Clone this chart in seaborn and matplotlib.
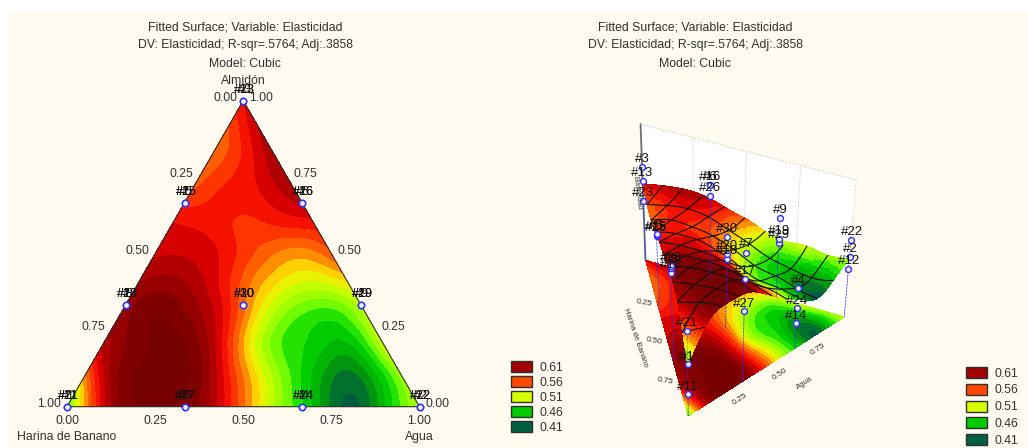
import numpy as np
import pandas as pd
import seaborn as sns
import matplotlib.pyplot as plt
import matplotlib.tri as mtri
from matplotlib.colors import BoundaryNorm, ListedColormap
from matplotlib.patches import Patch, Rectangle
from mpl_toolkits.mplot3d import proj3d
from mpl_toolkits.mplot3d.art3d import Poly3DCollection

sns.set_theme(style='white')
plt.rcParams['font.family'] = ['Liberation Sans', 'DejaVu Sans']

W, H = 1028, 448

# superficie, por filas de almidon (0, .1, ... 1), de izquierda a derecha
filas_superficie = [
    [.47, .59, .635, .635, .61, .55, .49, .445, .405, .445, .50],
    [.54, .625, .64, .635, .58, .515, .465, .425, .43, .49],
    [.60, .63, .64, .61, .535, .475, .455, .445, .505],
    [.615, .635, .62, .58, .515, .475, .465, .50],
    [.61, .615, .595, .555, .52, .505, .52],
    [.595, .595, .58, .555, .54, .555],
    [.585, .58, .57, .575, .58],
    [.56, .575, .585, .605],
    [.55, .575, .61],
    [.555, .60],
    [.585],
]

# corridas: la misma mezcla se repite tres veces
harina_run = [1, 0, 0, 1/3, 1/3, 0, 2/3, 2/3, 0, 1/3] * 3
agua_run = [0, 1, 0, 2/3, 0, 1/3, 1/3, 0, 2/3, 1/3] * 3
almidon_run = [0, 0, 1, 0, 2/3, 2/3, 0, 1/3, 1/3, 1/3] * 3
elasticidad_run = [.472, .51, .657, .51, .575, .657, .805, .65, .596, .55,
                   .335, .456, .597, .35, .57, .657, .695, .63, .505, .575,
                   .618, .584, .506, .42, .565, .61, .554, .66, .486, .648]

niveles_leyenda = [0.61, 0.56, 0.51, 0.46, 0.41]
colores_leyenda = ['#a00000', '#ff4800', '#d8ff00', '#00cc00', '#006040']
titulos = ['Fitted Surface; Variable: Elasticidad',
           'DV: Elasticidad; R-sqr=.5764; Adj:.3858',
           'Model: Cubic']
ticks = [0, .25, .5, .75, 1]

# escala de colores por bandas
paradas = [.40, .41, .425, .445, .46, .48, .51, .525, .54, .56, .575, .59, .61, .63, .65]
tonos = ['#005a3c', '#006040', '#009010', '#00c000', '#00d800', '#80ff00', '#d8ff00', '#ffe000',
         '#ff9000', '#ff4800', '#ff1800', '#d80000', '#a00000', '#800000', '#700000']
niveles = np.arange(.3975, .6526, .0125)
paleta = sns.blend_palette(tonos, n_colors=261, as_cmap=False)
# reparto la paleta segun las paradas
pos = np.interp(niveles[:-1] + .00625, paradas, np.linspace(0, 260, len(paradas))).astype(int)
cmap = ListedColormap([paleta[i] for i in pos])
norm = BoundaryNorm(niveles, cmap.N)


def a_xy(agua, almidon):
    return np.asarray(agua) + np.asarray(almidon) / 2, np.asarray(almidon) * np.sqrt(3) / 2


agua_g, almidon_g, z_g = [], [], []
for i, fila in enumerate(filas_superficie):
    for k, v in enumerate(fila):
        agua_g.append(k / 10)
        almidon_g.append(i / 10)
        z_g.append(v)
x_g, y_g = a_xy(agua_g, almidon_g)
z_g = np.array(z_g)
tri = mtri.Triangulation(x_g, y_g)
interp = mtri.CubicTriInterpolator(tri, z_g, kind='min_E')
refinador = mtri.UniformTriRefiner(tri)
tri_fina, z_fina = refinador.refine_field(z_g, triinterpolator=interp, subdiv=3)
z_fina = np.clip(z_fina, .40, .65)

runs = pd.DataFrame({'run': range(1, 31), 'harina': harina_run, 'agua': agua_run,
                     'almidon': almidon_run, 'elasticidad': elasticidad_run})
runs['x'], runs['y'] = a_xy(runs['agua'], runs['almidon'])

fig = plt.figure(figsize=(W / 100, H / 100), dpi=100, facecolor='white')
fig.patches.append(Rectangle((9 / W, 0), 1, 1 - 11 / H, transform=fig.transFigure,
                             facecolor='#fffbf0', edgecolor='none', zorder=-5))

for x_t in (245, 695):
    for i, t in enumerate(titulos):
        fig.text(x_t / W, 1 - (27 + 18.3 * i) / H, t, ha='center', va='center', fontsize=8.8, color='#303030')

# ---------- triangulo ----------
ax = fig.add_axes([67 / W, 1 - 406.7 / H, 352.5 / W, 306 / H])
ax.set_xlim(0, 1)
ax.set_ylim(0, np.sqrt(3) / 2)
ax.axis('off')
ax.tricontourf(tri_fina, z_fina, levels=niveles, cmap=cmap, norm=norm)
bx, by = a_xy([0, 1, 0, 0], [0, 0, 1, 0])
ax.plot(bx, by, color='#303030', lw=.8, clip_on=False)
sns.scatterplot(data=runs, x='x', y='y', ax=ax, s=20, facecolor='#f0f0ff', edgecolor='#3030ff',
                linewidth=1, clip_on=False, zorder=5, legend=False)
ax.set_xlabel('')
ax.set_ylabel('')
for _, r in runs.iterrows():
    ax.annotate('#%d' % r['run'], (r['x'], r['y']), xytext=(1, 7.5), textcoords='offset points', ha='center',
                va='center', fontsize=9, color='#101010', annotation_clip=False)
for t in ticks:
    px, py = a_xy(t, 0)
    ax.annotate('%.2f' % t, (px, py), xytext=(0, -10), textcoords='offset points', ha='center', va='center',
                fontsize=8.8, color='#303030', annotation_clip=False)
    px, py = a_xy(0, 1 - t)
    ax.annotate('%.2f' % t, (px, py), xytext=(-13, 2), textcoords='offset points', ha='center', va='center',
                fontsize=8.8, color='#303030', annotation_clip=False)
    px, py = a_xy(1 - t, t)
    ax.annotate('%.2f' % t, (px, py), xytext=(13, 2), textcoords='offset points', ha='center', va='center',
                fontsize=8.8, color='#303030', annotation_clip=False)
fig.text(67 / W, 1 - 437 / H, 'Harina de Banano', ha='center', va='center', fontsize=8.8, color='#303030')
fig.text(419 / W, 1 - 437 / H, 'Agua', ha='center', va='center', fontsize=8.8, color='#303030')
fig.text(243 / W, 1 - 81 / H, 'Almidón', ha='center', va='center', fontsize=8.8, color='#303030')

# ---------- vista 3D ----------
ax3 = fig.add_axes([479 / W, 1 - 471 / H, 440 / W, 440 / H], projection='3d', computed_zorder=False)
ax3.patch.set_alpha(0)
ax3.set_axis_off()
z_min, z_max = .23, .84
ax3.set_xlim(0, 1)
ax3.set_ylim(0, np.sqrt(3) / 2)
ax3.set_zlim(z_min, z_max)
ax3.set_box_aspect((1, .95, .89), zoom=.76)
ax3.view_init(elev=43, azim=230)
ax3.set_proj_type('persp', focal_length=.65)


def texto_plano(x, y, z, s, rot=0, size=6, color='#303030', zorder=6):
    # el texto 3D pierde la rotacion, asi que lo proyecto y lo escribo en 2D
    xp, yp, _ = proj3d.proj_transform(x, y, z, ax3.get_proj())
    ax3.text2D(xp, yp, s, transform=ax3.transData, rotation=rot, rotation_mode='anchor', fontsize=size,
               color=color, ha='center', va='center', zorder=zorder)


# pared del fondo (almidon - agua)
ax_, ay_ = a_xy(0, 1)
bx_, by_ = a_xy(1, 0)
pared = Poly3DCollection([[(ax_, ay_, z_min), (bx_, by_, z_min), (bx_, by_, z_max), (ax_, ay_, z_max)]],
                         facecolor='white', edgecolor='none', zorder=1)
ax3.add_collection3d(pared)
for f in (.25, .5, .75, 1):
    ax3.plot([ax_ + f * (bx_ - ax_)] * 2, [ay_ + f * (by_ - ay_)] * 2, [z_min, z_max], color='#c8c8c8', lw=.7,
             ls=':', zorder=1.5)
ax3.plot([ax_, bx_], [ay_, by_], [z_max, z_max], color='#c8c8c8', lw=.8, ls=':', zorder=1.5)
ax3.plot([ax_, ax_], [ay_, ay_], [z_min, z_max], color='#707070', lw=1.3, zorder=1.5)

# piso y superficie
ax3.tricontourf(tri_fina, z_fina, levels=niveles, cmap=cmap, norm=norm, zdir='z', offset=z_min, zorder=2)
ax3.plot_trisurf(tri_fina.x, tri_fina.y, z_fina, triangles=tri_fina.triangles, cmap=cmap, norm=norm,
                 linewidth=0, antialiased=False, zorder=3)

# malla negra sobre la superficie
for c in np.arange(.1, .95, .1):
    t = np.linspace(0, 1 - c, 40)
    lx, ly = a_xy(t, np.full_like(t, c))
    ax3.plot(lx, ly, np.clip(interp(lx, ly).filled(np.nan), .4, .65), color='#101010', lw=.8, zorder=4)
    lx, ly = a_xy(1 - c - t, t)
    ax3.plot(lx, ly, np.clip(interp(lx, ly).filled(np.nan), .4, .65), color='#101010', lw=.8, zorder=4)

# corridas
ax3.scatter(runs['x'], runs['y'], runs['elasticidad'], s=18, facecolor='#f0f0ff', edgecolor='#3030ff',
            linewidth=1, depthshade=False, zorder=5)
for _, r in runs.iterrows():
    ax3.plot([r['x'], r['x']], [r['y'], r['y']], [z_min, r['elasticidad']], color='#3030ff', lw=.4, ls=':', zorder=4.5)
    texto_plano(r['x'], r['y'], r['elasticidad'] + .035, '#%d' % r['run'], size=9.5, color='#101010')

# marcas del piso
for t in (.25, .5, .75):
    px, py = a_xy(t, 0)
    texto_plano(px, py - .07, z_min, '%.2f' % t, 33, 6)
    px, py = a_xy(0, 1 - t)
    texto_plano(px - .07, py, z_min, '%.2f' % t, -10, 6)
px, py = a_xy(.55, 0)
texto_plano(px, py - .18, z_min, 'Agua', 33, 5.5)
px, py = a_xy(0, .58)
texto_plano(px - .17, py, z_min, 'Harina de Banano', -71, 5.5)
texto_plano(ax_ - .04, ay_, .56, 'Elasticidad', -83, 5)

# leyendas
asas = [Patch(facecolor=c, edgecolor='#303030', lw=1) for c in colores_leyenda]
etiquetas = ['%.2f' % v for v in niveles_leyenda]
fig.legend(asas, etiquetas, loc='upper left', bbox_to_anchor=(511 / W, 1 - 361 / H), frameon=False, fontsize=8.8,
           handlelength=1.75, handleheight=1.0, labelspacing=.2, handletextpad=.6, borderpad=0, borderaxespad=0,
           labelcolor='#303030')
fig.legend(asas, etiquetas, loc='upper left', bbox_to_anchor=(966 / W, 1 - 367 / H), frameon=False, fontsize=8.8,
           handlelength=1.75, handleheight=1.0, labelspacing=.34, handletextpad=.6, borderpad=0, borderaxespad=0,
           labelcolor='#303030')

fig.savefig('out.png', dpi=100)
